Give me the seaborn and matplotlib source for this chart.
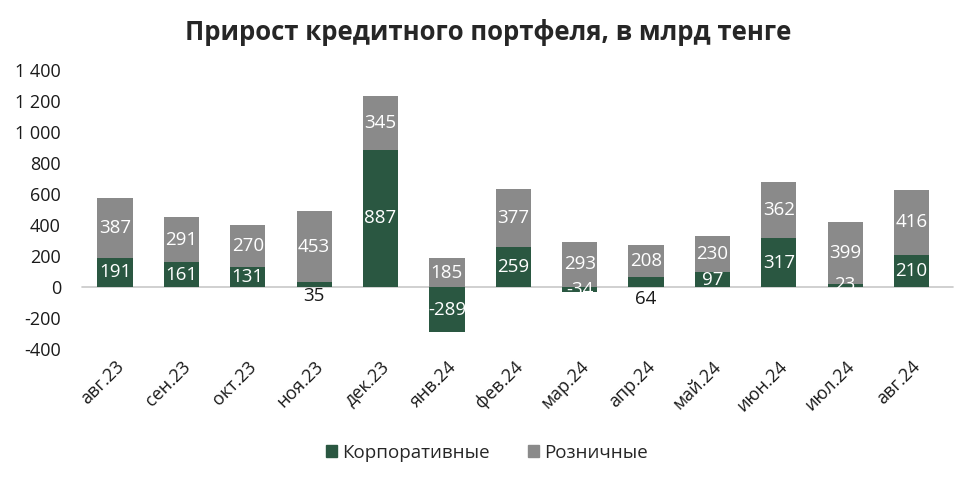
import matplotlib
matplotlib.use("Agg")
import matplotlib.pyplot as plt
import seaborn as sns
import numpy as np
import pandas as pd
from matplotlib.patches import Patch

categories = ["авг.23", "сен.23", "окт.23", "ноя.23", "дек.23", "янв.24", "фев.24",
              "мар.24", "апр.24", "май.24", "июн.24", "июл.24", "авг.24"]
corporate = [191, 161, 131, 35, 887, -289, 259, -34, 64, 97, 317, 23, 210]
retail = [387, 291, 270, 453, 345, 185, 377, 293, 208, 230, 362, 399, 416]
yticks = [-400, -200, 0, 200, 400, 600, 800, 1000, 1200, 1400]
ytick_labels = ["-400", "-200", "0", "200", "400", "600", "800", "1 000", "1 200", "1 400"]

GREEN = "#2a5741"
GREY = "#8a8a8a"

sns.set_theme(style="white")
plt.rcParams["font.family"] = ["Open Sans", "DejaVu Sans"]

df = pd.DataFrame({"cat": categories, "corp": corporate, "retail": retail})
df["pos_corp"] = df["corp"].clip(lower=0)
df["top"] = df["pos_corp"] + df["retail"]

fig = plt.figure(figsize=(9.74, 4.83), dpi=100)
ax = fig.add_axes([0.084, 0.277, 0.886, 0.578])

sns.barplot(data=df, x="cat", y="top", color=GREY, width=0.53, ax=ax,
            saturation=1, linewidth=0)
sns.barplot(data=df, x="cat", y="corp", color=GREEN, width=0.53, ax=ax,
            saturation=1, linewidth=0)

ax.set_ylim(-400, 1400)
ax.set_xlim(-0.5, len(categories) - 0.5)
ax.set_yticks(yticks)
ax.set_yticklabels(ytick_labels, fontsize=13, color="#1a1a1a")
ax.set_xlabel("")
ax.set_ylabel("")
for s in ax.spines.values():
    s.set_visible(False)
ax.axhline(0, color="#c8c8c8", lw=1.2, xmin=0, xmax=1.01, clip_on=False, zorder=0.5)
ax.tick_params(axis="both", length=0)
ax.tick_params(axis="y", pad=15)
ax.tick_params(axis="x", pad=6)
plt.setp(ax.get_xticklabels(), rotation=45, ha="right", rotation_mode="anchor",
         fontsize=13, color="#1a1a1a")

for i, (c, r, pc) in enumerate(zip(df["corp"], df["retail"], df["pos_corp"])):
    ax.text(i, pc + r / 2, f"{r}", ha="center", va="center", color="white", fontsize=13.5)
    if c in (35, 64):
        ax.text(i, 2 if c == 35 else -18, f"{c}", ha="center", va="top",
                color="#1a1a1a", fontsize=13.5)
    else:
        ax.text(i, c / 2, f"{c}", ha="center", va="center", color="white", fontsize=13.5)

fig.suptitle("Прирост кредитного портфеля, в млрд тенге", fontsize=18.5,
             fontweight="bold", y=0.96, x=0.501)

handles = [Patch(color=GREEN, label="Корпоративные"), Patch(color=GREY, label="Розничные")]
fig.legend(handles=handles, loc="center", bbox_to_anchor=(0.5, 0.062), ncol=2,
           frameon=False, fontsize=13.5, handlelength=0.6, handleheight=0.6,
           handletextpad=0.3, columnspacing=2.0)

fig.savefig("out.png", dpi=100)
